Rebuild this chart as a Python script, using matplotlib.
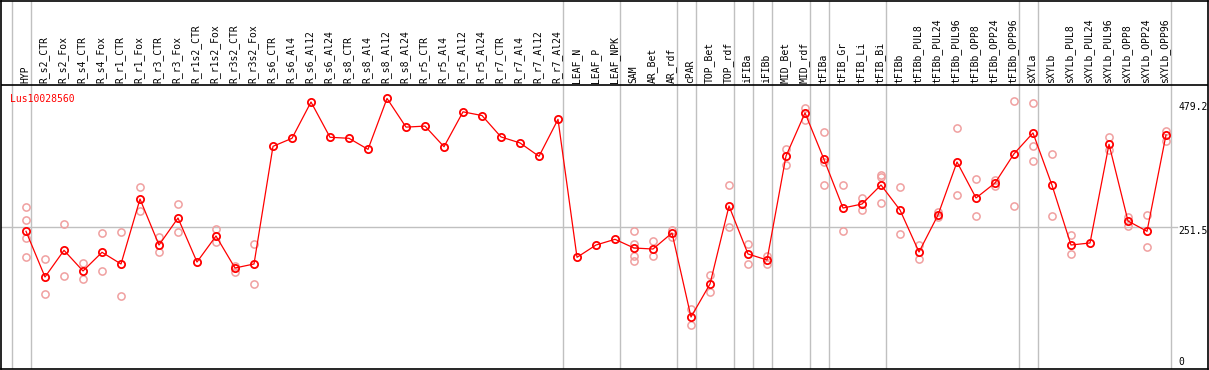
import matplotlib
matplotlib.use("Agg")
import matplotlib.pyplot as plt

gene = "Lus10028560"

samples = [
    "HYP", "R_s2_CTR", "R_s2_Fox", "R_s4_CTR", "R_s4_Fox", "R_r1_CTR", "R_r1_Fox",
    "R_r3_CTR", "R_r3_Fox", "R_r1s2_CTR", "R_r1s2_Fox", "R_r3s2_CTR", "R_r3s2_Fox",
    "R_s6_CTR", "R_s6_Al4", "R_s6_Al12", "R_s6_Al24", "R_s8_CTR", "R_s8_Al4",
    "R_s8_Al12", "R_s8_Al24", "R_r5_CTR", "R_r5_Al4", "R_r5_Al12", "R_r5_Al24",
    "R_r7_CTR", "R_r7_Al4", "R_r7_Al12", "R_r7_Al24", "LEAF_N", "LEAF_P", "LEAF_NPK",
    "SAM", "AR_Bet", "AR_rdf", "cPAR", "TOP_Bet", "TOP_rdf", "iFIBa", "iFIBb",
    "MID_Bet", "MID_rdf", "tFIBa", "tFIB_Gr", "tFIB_Li", "tFIB_Bi", "tFIBb",
    "tFIBb_PUL8", "tFIBb_PUL24", "tFIBb_PUL96", "tFIBb_OPP8", "tFIBb_OPP24",
    "tFIBb_OPP96", "sXYLa", "sXYLb", "sXYLb_PUL8", "sXYLb_PUL24", "sXYLb_PUL96",
    "sXYLb_OPP8", "sXYLb_OPP24", "sXYLb_OPP96",
]

means = [
    243.9, 163.0, 210.2, 173.6, 206.7, 186.0, 301.0, 219.6, 267.4, 189.5, 235.6,
    178.9, 186.0, 394.4, 408.6, 472.9, 410.4, 408.6, 389.0, 479.2, 428.4, 430.2,
    393.7, 455.5, 448.9, 411.0, 400.4, 376.7, 442.2, 197.8, 219.6, 229.7, 214.3,
    212.5, 240.9, 92.1, 150.6, 288.7, 203.7, 193.1, 377.2, 453.6, 371.2, 285.1,
    292.2, 325.9, 281.6, 207.2, 272.8, 366.6, 302.9, 329.4, 381.2, 418.1, 325.4,
    219.6, 223.2, 398.0, 262.1, 243.9, 414.6,
]

replicates = [
    [286.9, 263.9, 231.5, 197.8], [194.3, 132.2], [256.3, 164.7], [187.6, 158.8],
    [240.9, 173.0], [242.6, 128.6], [322.3, 279.3], [233.3, 206.7], [291.7, 242.1],
    [], [248.0, 224.4], [182.4, 171.8], [221.4, 150.1],
    [], [], [], [], [], [], [], [], [], [], [], [], [], [], [], [],
    [], [], [],
    [243.9, 221.4, 200.7, 191.8], [226.2, 199.6], [246.7, 234.3], [106.3, 77.4],
    [166.5, 135.8], [325.4, 251.0], [221.4, 185.4], [200.7, 185.4], [389.0, 360.7],
    [463.1, 441.5], [420.6, 367.4, 326.6], [325.4, 243.9], [303.5, 281.6],
    [343.6, 340.6, 293.4], [322.3, 239.1], [220.2, 194.3], [277.5, 269.7],
    [426.2, 307.4], [336.0, 270.4], [335.3, 323.6], [475.0, 288.7],
    [471.6, 395.4, 368.8], [380.3, 271.0], [237.5, 203.2], [], [411.0, 388.0],
    [269.7, 253.8], [272.8, 215.5], [421.2, 404.7],
]

# group separators sit just right of these sample indices
separators = [-1, 0, 28, 31, 34, 35, 37, 38, 39, 41, 42, 45, 52, 53, 60]

ticks = [479.2, 251.5, 0]
ymax_data = 503.0
mono = "DejaVu Sans Mono"

fig = plt.figure(figsize=(12.09, 3.70), dpi=100)
ax = fig.add_axes([1 / 1209, 1 / 370, 1207 / 1209, 368 / 370])
ax.set_xlim(-1.316, 62.21)
ax.set_ylim(0, ymax_data * 368 / 284)
ax.set_xticks([])
ax.set_yticks([])
for s in ax.spines.values():
    s.set_color("black")
    s.set_linewidth(1.2)

for b in separators:
    ax.axvline(b + 0.25, color="#c0c0c0", lw=1.0, zorder=1)
ax.axhline(ticks[1], xmin=0, xmax=0.974, color="#c0c0c0", lw=1.0, zorder=1)
ax.axhline(ymax_data, color="black", lw=1.2, zorder=2)

xs = list(range(len(samples)))
for i, vals in enumerate(replicates):
    ax.plot([i] * len(vals), vals, linestyle="None", marker="o", ms=5.2,
            mfc="none", mec="#f0a0a0", mew=1.1, zorder=3)
ax.plot(xs, means, color="red", lw=0.9, marker="o", ms=5.2, mfc="none",
        mec="red", mew=1.3, zorder=4)

for i, name in enumerate(samples):
    ax.text(i - 0.05, ymax_data + 4, name, rotation=90, ha="center", va="bottom",
            family=mono, fontsize=7, color="black")

ax.text(-0.85, 478, gene, ha="left", va="center", family=mono, fontsize=7, color="red")

ax.text(60.65, ticks[0] - 6, "479.2", ha="left", va="top", family=mono, fontsize=7)
ax.text(60.65, ticks[1] + 1, "251.5", ha="left", va="top", family=mono, fontsize=7)
ax.text(60.65, 4, "0", ha="left", va="bottom", family=mono, fontsize=7)

fig.savefig("out.png", dpi=100)
